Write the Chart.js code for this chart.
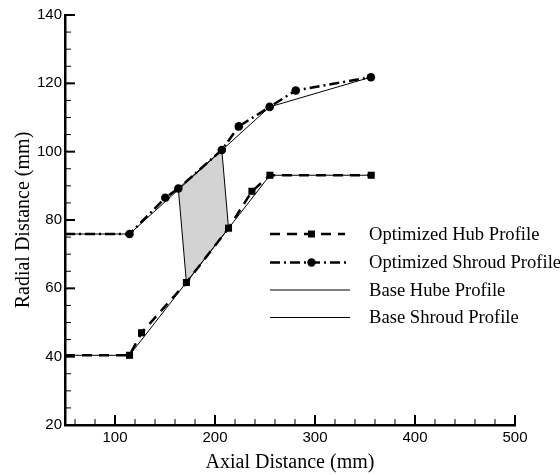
<!DOCTYPE html>
<html>
<head>
<meta charset="utf-8">
<script src="https://cdn.jsdelivr.net/npm/chart.js@4.4.1/dist/chart.umd.min.js"></script>
<style>
  html, body { margin: 0; padding: 0; background: #fff; }
  #wrap { width: 560px; height: 475px; }
</style>
</head>
<body>
<div id="wrap"><canvas id="profileChart" width="560" height="475"></canvas></div>
<script>
// values
const xTicks = [100, 200, 300, 400, 500];
const yTicks = [20, 40, 60, 80, 100, 120, 140];

const hubOptX = [50, 114.5, 126.5, 171.4, 213.5, 236.9, 254.9, 356.2];
const hubOptY = [40.4, 40.4, 47.0, 61.7, 77.6, 88.4, 93.1, 93.1];

const shroudOptX = [50, 114.5, 150.3, 163.3, 206.8, 223.8, 254.6, 280.7, 355.9];
const shroudOptY = [75.9, 75.9, 86.5, 89.2, 100.5, 107.4, 113.1, 117.9, 121.8];

const baseHubX = [50, 114.5, 254.9, 356.2];
const baseHubY = [40.4, 40.4, 93.1, 93.1];

const baseShroudX = [50, 114.5, 254.6, 355.9];
const baseShroudY = [75.9, 75.9, 113.1, 121.8];

// shaded blade region (closed)
const regionX = [163.3, 206.8, 213.5, 171.4, 163.3];
const regionY = [89.2, 100.5, 77.6, 61.7, 89.2];

const legendLabels = ['Optimized Hub Profile', 'Optimized Shroud Profile', 'Base Hube Profile', 'Base Shroud Profile'];

function pts(xs, ys) {
  return xs.map((x, i) => ({ x: x, y: ys[i] }));
}

const SERIF = "'Liberation Serif', 'Times New Roman', serif";
const SANS = "'Liberation Sans', Arial, sans-serif";

// inward major/minor ticks
const tickMarks = {
  id: 'tickMarks',
  afterDraw(chart) {
    const ctx = chart.ctx;
    const xs = chart.scales.x, ys = chart.scales.y;
    const a = chart.chartArea;
    ctx.save();
    ctx.strokeStyle = '#000';
    for (let v = 60; v <= 500; v += 20) {
      const px = xs.getPixelForValue(v);
      const major = v % 100 === 0;
      ctx.lineWidth = major ? 2 : 1;
      ctx.beginPath();
      ctx.moveTo(px, a.bottom);
      ctx.lineTo(px, a.bottom - (major ? 10 : 6));
      ctx.stroke();
    }
    for (let v = 25; v <= 140; v += 5) {
      const py = ys.getPixelForValue(v);
      const major = v % 20 === 0;
      ctx.lineWidth = major ? 2 : 1;
      ctx.beginPath();
      ctx.moveTo(a.left, py);
      ctx.lineTo(a.left + (major ? 10 : 6), py);
      ctx.stroke();
    }
    ctx.restore();
  }
};

// legend drawn inside the plot
const innerLegend = {
  id: 'innerLegend',
  afterDraw(chart) {
    const ctx = chart.ctx;
    const x0 = 270, x1 = 348, tx = 369;
    const rows = [234, 262.5, 290, 317.5];
    ctx.save();
    ctx.strokeStyle = '#000';
    ctx.fillStyle = '#000';

    // hub: dashed + square
    ctx.lineWidth = 2.5;
    ctx.setLineDash([10, 7]);
    ctx.beginPath(); ctx.moveTo(x0, rows[0]); ctx.lineTo(x1 - 3, rows[0]); ctx.stroke();
    ctx.setLineDash([]);
    ctx.fillRect(311.5 - 3.5, rows[0] - 3.5, 7, 7);

    // shroud: dash-dot + circle
    ctx.setLineDash([10, 4, 2, 4]);
    ctx.beginPath(); ctx.moveTo(x0, rows[1]); ctx.lineTo(x1, rows[1]); ctx.stroke();
    ctx.setLineDash([]);
    ctx.beginPath(); ctx.arc(311.5, rows[1], 4.2, 0, Math.PI * 2); ctx.fill();

    // base lines
    ctx.lineWidth = 1;
    for (let r = 2; r < 4; r++) {
      ctx.beginPath(); ctx.moveTo(x0, rows[r]); ctx.lineTo(x1 + 2, rows[r]); ctx.stroke();
    }

    ctx.font = '18.6px ' + SERIF;
    ctx.textBaseline = 'middle';
    ctx.textAlign = 'left';
    legendLabels.forEach((t, i) => ctx.fillText(t, tx, rows[i] + 1));
    ctx.restore();
  }
};

const ctx = document.getElementById('profileChart').getContext('2d');
new Chart(ctx, {
  type: 'scatter',
  data: {
    datasets: [
      {
        label: legendLabels[0],
        data: pts(hubOptX, hubOptY),
        showLine: true,
        borderColor: '#000',
        backgroundColor: '#000',
        borderWidth: 2.5,
        borderDash: [10, 7],
        pointStyle: 'rect',
        pointRadius: hubOptX.map((v, i) => i === 0 ? 0 : 5),
        pointBorderWidth: 0
      },
      {
        label: legendLabels[1],
        data: pts(shroudOptX, shroudOptY),
        showLine: true,
        borderColor: '#000',
        backgroundColor: '#000',
        borderWidth: 2.5,
        borderDash: [10, 4, 2, 4],
        pointStyle: 'circle',
        pointRadius: shroudOptX.map((v, i) => i === 0 ? 0 : 4.3),
        pointBorderWidth: 0
      },
      {
        label: legendLabels[2],
        data: pts(baseHubX, baseHubY),
        showLine: true,
        borderColor: '#000',
        borderWidth: 1,
        pointRadius: 0
      },
      {
        label: legendLabels[3],
        data: pts(baseShroudX, baseShroudY),
        showLine: true,
        borderColor: '#000',
        borderWidth: 1,
        pointRadius: 0
      },
      {
        label: 'region',
        data: pts(regionX, regionY),
        showLine: true,
        fill: 'shape',
        borderColor: '#000',
        backgroundColor: '#d3d3d3',
        borderWidth: 1,
        pointRadius: 0
      }
    ]
  },
  options: {
    responsive: false,
    animation: false,
    events: [],
    layout: { padding: { left: 14, right: 45, top: 15, bottom: 0 } },
    plugins: {
      legend: { display: false },
      tooltip: { enabled: false }
    },
    scales: {
      x: {
        type: 'linear',
        min: 50,
        max: 500,
        afterBuildTicks: (scale) => { scale.ticks = xTicks.map(v => ({ value: v })); },
        grid: { display: false, drawTicks: false },
        border: { display: true, color: '#000', width: 2.5 },
        ticks: { color: '#000', font: { family: SANS, size: 15 }, padding: 4, maxRotation: 0 },
        title: { display: true, text: 'Axial Distance (mm)', color: '#000', font: { family: SERIF, size: 20 }, padding: { top: 0, bottom: 0 } }
      },
      y: {
        type: 'linear',
        min: 20,
        max: 140,
        afterBuildTicks: (scale) => { scale.ticks = yTicks.map(v => ({ value: v })); },
        grid: { display: false, drawTicks: false },
        border: { display: true, color: '#000', width: 2.5 },
        ticks: { color: '#000', font: { family: SANS, size: 15 }, padding: 3 },
        title: { display: true, text: 'Radial Distance (mm)', color: '#000', font: { family: SERIF, size: 20, lineHeight: 1 }, padding: { top: 0, bottom: 0 } }
      }
    }
  },
  plugins: [tickMarks, innerLegend]
});
</script>
</body>
</html>
